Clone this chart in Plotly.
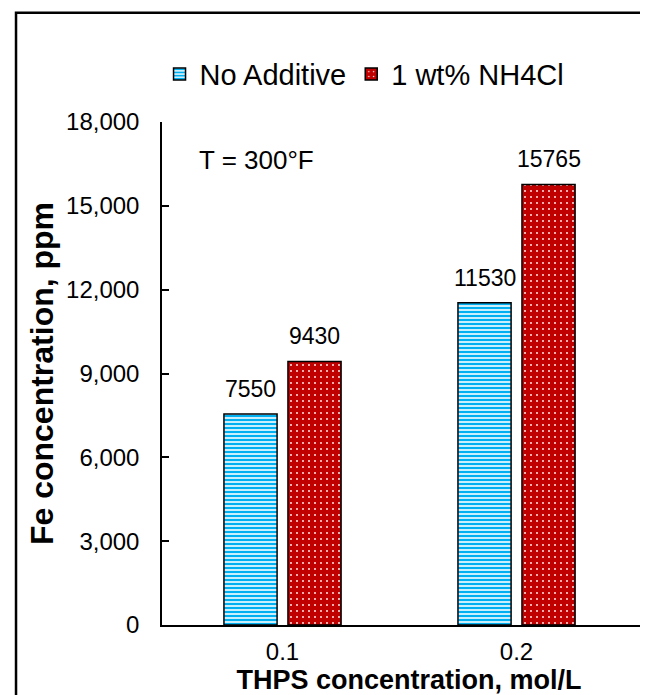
import plotly.graph_objects as go

categories = ["0.1", "0.2"]
no_additive = [7550, 11530]
nh4cl = [9430, 15765]
series_names = ["No Additive", "1 wt% NH4Cl"]
y_ticks = [0, 3000, 6000, 9000, 12000, 15000, 18000]

FONT = "Liberation Sans, Arial, sans-serif"
BARGAP = 0.453
X_RANGE = [-0.515, 1.596]
PLOT_W = 648 - 154
px_per_cat = PLOT_W / (X_RANGE[1] - X_RANGE[0])
half_slot = px_per_cat * (1 - BARGAP) / 4  # offset from category centre to each bar centre

fig = go.Figure()
fig.add_trace(go.Bar(
    x=categories, y=no_additive, name=series_names[0],
    marker=dict(color="#C9EEFC", line=dict(color="black", width=1.5),
                pattern=dict(shape="-", fgcolor="#00B0F0", bgcolor="#C9EEFC",
                             size=4, solidity=0.5, fillmode="replace")),
))
fig.add_trace(go.Bar(
    x=categories, y=nh4cl, name=series_names[1],
    marker=dict(color="#C00000", line=dict(color="black", width=1.5),
                pattern=dict(shape=".", fgcolor="white", bgcolor="#C00000",
                             size=6, solidity=0.07, fillmode="replace")),
))

annotations = [dict(
    text="T = 300°F", xref="paper", yref="paper",
    x=0.07, y=0.925, xanchor="left", yanchor="middle",
    showarrow=False, font=dict(family=FONT, size=26, color="black"),
)]
for vals, sign in ((no_additive, -1), (nh4cl, 1)):
    for idx, v in enumerate(vals):  # category index on the category axis
        annotations.append(dict(
            text=str(v), x=idx, y=v, xref="x", yref="y",
            xshift=sign * half_slot, yshift=10,
            xanchor="center", yanchor="bottom", showarrow=False,
            font=dict(family=FONT, size=23, color="black"),
        ))

fig.update_layout(
    width=648, height=695,
    margin=dict(l=154, r=0, t=114, b=78, autoexpand=False),
    paper_bgcolor="white", plot_bgcolor="white",
    font=dict(family=FONT, size=24, color="black"),
    barmode="group", bargap=BARGAP, bargroupgap=0.17,
    showlegend=True,
    legend=dict(orientation="h", x=0.41, xanchor="center", y=1.095, yanchor="middle",
                font=dict(family=FONT, size=29, color="black"),
                bgcolor="rgba(0,0,0,0)", itemwidth=30, tracegroupgap=0),
    xaxis=dict(
        type="category", range=X_RANGE,
        showline=True, linecolor="black", linewidth=2,
        ticks="", showgrid=False, zeroline=False,
        tickfont=dict(family=FONT, size=24, color="black"),
        ticklabelstandoff=4,
        title=dict(text="<b>THPS concentration, mol/L</b>",
                   font=dict(family=FONT, size=27, color="black"), standoff=0),
    ),
    yaxis=dict(
        range=[0, 18000], tickvals=y_ticks, tickformat=",",
        showline=True, linecolor="black", linewidth=1.5,
        ticks="inside", ticklen=7, tickcolor="black", tickwidth=1.5,
        showgrid=False, zeroline=False,
        tickfont=dict(family=FONT, size=24, color="black"),
        ticklabelstandoff=16,
        title=dict(text="<b>Fe concentration, ppm</b>",
                   font=dict(family=FONT, size=32, color="black"), standoff=3),
    ),
    annotations=annotations,
    shapes=[dict(
        type="rect", xref="paper", yref="paper",
        x0=-0.2955, x1=1.2, y0=-0.4, y1=1.217,
        line=dict(color="black", width=2.5), fillcolor="rgba(0,0,0,0)", layer="above",
    )],
)

fig.write_html("out.html")
